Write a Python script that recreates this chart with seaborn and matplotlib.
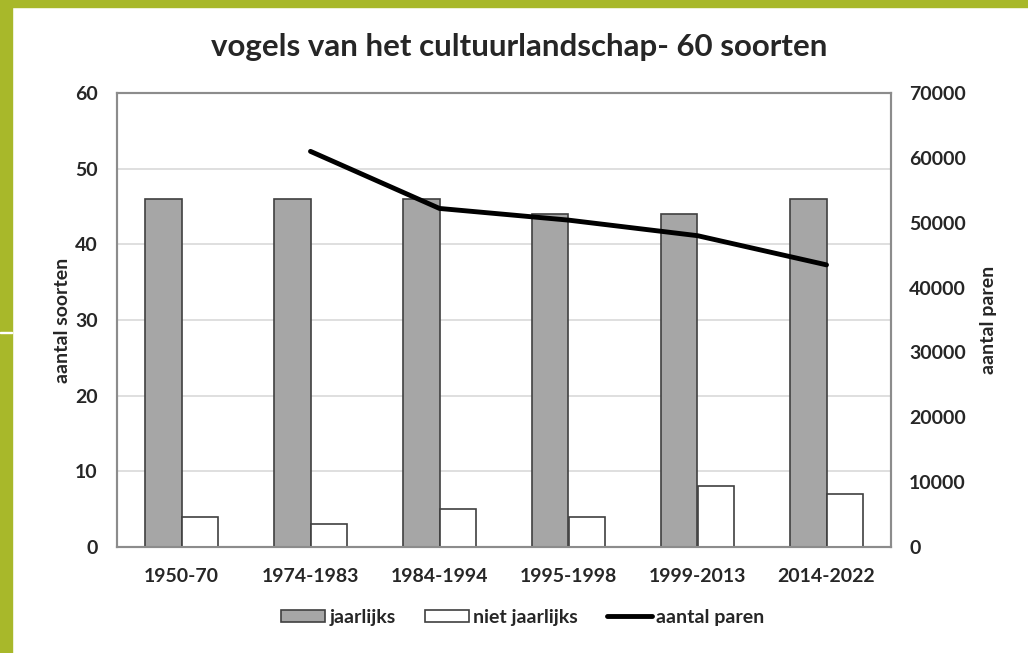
import matplotlib
matplotlib.use("Agg")
import matplotlib.pyplot as plt
import seaborn as sns
import pandas as pd
from matplotlib.patches import Patch, Rectangle
from matplotlib.lines import Line2D

categories = ["1950-70", "1974-1983", "1984-1994", "1995-1998", "1999-2013", "2014-2022"]
jaarlijks = [46, 46, 46, 44, 44, 46]
niet_jaarlijks = [4, 3, 5, 4, 8, 7]
paren_categories = ["1974-1983", "1984-1994", "1995-1998", "1999-2013", "2014-2022"]
aantal_paren = [61000, 52200, 50400, 48000, 43500]
left_ticks = [0, 10, 20, 30, 40, 50, 60]
right_ticks = [0, 10000, 20000, 30000, 40000, 50000, 60000, 70000]

sns.set_style("white")
plt.rcParams['font.family'] = ['Lato', 'DejaVu Sans']
plt.rcParams['font.weight'] = 'bold'

FS = 14

df = pd.DataFrame({
    "periode": categories * 2,
    "aantal": jaarlijks + niet_jaarlijks,
    "soort": ["jaarlijks"] * len(categories) + ["niet jaarlijks"] * len(categories),
})

fig = plt.figure(figsize=(10.28, 6.53), dpi=100)
fig.patch.set_facecolor("white")
green = "#a8b82a"
fig.patches.append(Rectangle((0, 0), 12 / 1028, 1, transform=fig.transFigure, color=green, zorder=0))
fig.patches.append(Rectangle((0, 1 - 7 / 653), 1, 7 / 653, transform=fig.transFigure, color=green, zorder=0))
fig.patches.append(Rectangle((0, 1 - 333 / 653), 12 / 1028, 1.5 / 653, transform=fig.transFigure, color="white", zorder=1))

ax = fig.add_axes([117 / 1028, 106 / 653, 774 / 1028, 454 / 653])
fill = {"jaarlijks": "#a6a6a6", "niet jaarlijks": "#ffffff"}
sns.barplot(data=df, x="periode", y="aantal", hue="soort", order=categories,
            hue_order=["jaarlijks", "niet jaarlijks"], palette=fill, width=0.57,
            edgecolor="#404040", linewidth=1.2, saturation=1, legend=False, ax=ax, zorder=3)
ax.set_ylim(0, 60)
ax.set_xlim(-0.5, len(categories) - 0.5)
ax.set_yticks(left_ticks)
ax.yaxis.grid(True, color="#d9d9d9", linewidth=1.2, zorder=0)
ax.set_axisbelow(True)
ax.tick_params(axis="both", length=0, labelsize=FS)
ax.tick_params(axis="y", pad=14)
ax.tick_params(axis="x", pad=15)
for lab in ax.get_xticklabels() + ax.get_yticklabels():
    lab.set_fontweight("bold")
ax.set_xlabel("")
ax.set_ylabel("aantal soorten", fontsize=FS, fontweight="bold", labelpad=3)
for sp in ax.spines.values():
    sp.set_color("#8c8c8c")
    sp.set_linewidth(1.5)

ax2 = ax.twinx()
xpos = [categories.index(c) for c in paren_categories]
sns.lineplot(x=xpos, y=aantal_paren, color="black", linewidth=3.5, ax=ax2, zorder=5)
ax2.set_ylim(0, 70000)
ax2.set_xlim(-0.5, len(categories) - 0.5)
ax2.set_yticks(right_ticks)
ax2.tick_params(axis="y", length=0, labelsize=FS, pad=13)
for lab in ax2.get_yticklabels():
    lab.set_fontweight("bold")
ax2.set_ylabel("aantal paren", fontsize=FS, fontweight="bold", rotation=90, labelpad=10)
for sp in ax2.spines.values():
    sp.set_color("#8c8c8c")
    sp.set_linewidth(1.5)

fig.text(0.505, 0.928, "vogels van het cultuurlandschap- 60 soorten", ha="center", va="center",
         fontsize=22.5, fontweight="bold")

handles = [
    Patch(facecolor="#a6a6a6", edgecolor="#404040", linewidth=1.2, label="jaarlijks"),
    Patch(facecolor="#ffffff", edgecolor="#404040", linewidth=1.2, label="niet jaarlijks"),
    Line2D([0], [0], color="black", linewidth=3.5, label="aantal paren"),
]
fig.legend(handles=handles, loc="center", bbox_to_anchor=(0.508, 0.055), ncol=3, frameon=False,
           handlelength=2.3, handleheight=0.55, handletextpad=0.2, columnspacing=1.5,
           prop={"weight": "bold", "size": FS})

fig.savefig("out.png", dpi=100, facecolor="white")
